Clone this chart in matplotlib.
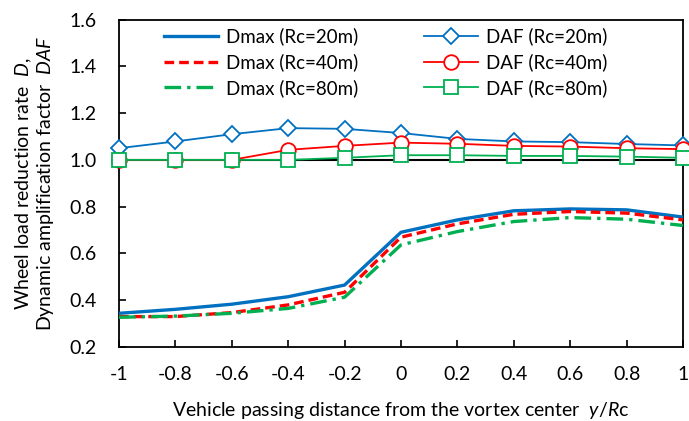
import matplotlib
matplotlib.use("Agg")
import matplotlib.pyplot as plt

plt.rcParams['font.family'] = ['Lato', 'DejaVu Sans']
plt.rcParams['mathtext.fontset'] = 'custom'
plt.rcParams['mathtext.it'] = 'Lato:italic'
plt.rcParams['mathtext.rm'] = 'Lato'

x = [-1, -0.8, -0.6, -0.4, -0.2, 0, 0.2, 0.4, 0.6, 0.8, 1]
dmax_20 = [0.343, 0.360, 0.382, 0.414, 0.464, 0.690, 0.743, 0.782, 0.790, 0.786, 0.755]
dmax_40 = [0.329, 0.329, 0.346, 0.379, 0.433, 0.669, 0.726, 0.767, 0.779, 0.772, 0.743]
dmax_80 = [0.326, 0.331, 0.343, 0.364, 0.412, 0.636, 0.693, 0.736, 0.753, 0.746, 0.719]
daf_20 = [1.050, 1.079, 1.110, 1.136, 1.133, 1.115, 1.090, 1.079, 1.076, 1.068, 1.062]
daf_40 = [1.000, 1.000, 1.000, 1.043, 1.060, 1.074, 1.069, 1.060, 1.057, 1.050, 1.046]
daf_80 = [1.000, 1.000, 1.000, 1.000, 1.009, 1.020, 1.020, 1.017, 1.017, 1.014, 1.009]
x_ticks = [-1, -0.8, -0.6, -0.4, -0.2, 0, 0.2, 0.4, 0.6, 0.8, 1]
x_tick_labels = ['-1', '-0.8', '-0.6', '-0.4', '-0.2', '0', '0.2', '0.4', '0.6', '0.8', '1']
y_ticks = [0.2, 0.4, 0.6, 0.8, 1.0, 1.2, 1.4, 1.6]
y_tick_labels = ['0.2', '0.4', '0.6', '0.8', '1.0', '1.2', '1.4', '1.6']

blue = '#0070C0'
red = '#FF0000'
green = '#00B050'

fig = plt.figure(figsize=(6.89, 4.21), dpi=100)
ax = fig.add_axes([0.1727, 0.1765, 0.8186, 0.7765])

ax.axhline(1.0, color='black', lw=1.5, zorder=1)

h1, = ax.plot(x, dmax_20, color=blue, lw=2.4, label='Dmax (Rc=20m)', zorder=3)
h2, = ax.plot(x, dmax_40, color=red, lw=2.4, dashes=(2.9, 1.5), label='Dmax (Rc=40m)', zorder=3)
h3, = ax.plot(x, dmax_80, color=green, lw=2.4, dashes=(5, 1.8, 1.0, 1.8), label='Dmax (Rc=80m)', zorder=3)
h4, = ax.plot(x, daf_20, color=blue, lw=1.3, marker='D', ms=8, mfc='white', mec=blue, mew=1.3,
              label='DAF (Rc=20m)', zorder=4)
h5, = ax.plot(x, daf_40, color=red, lw=1.3, marker='o', ms=10.5, mfc='white', mec=red, mew=1.3,
              label='DAF (Rc=40m)', zorder=5)
h6, = ax.plot(x, daf_80, color=green, lw=1.3, marker='s', ms=10.5, mfc='white', mec=green, mew=1.3,
              label='DAF (Rc=80m)', zorder=6)

ax.set_xlim(-1, 1)
ax.set_ylim(0.2, 1.6)
ax.set_xticks(x_ticks)
ax.set_xticklabels(x_tick_labels)
ax.set_yticks(y_ticks)
ax.set_yticklabels(y_tick_labels)
ax.tick_params(direction='in', length=5, width=1.2, labelsize=14, colors='black')
ax.tick_params(axis='y', pad=16)
ax.tick_params(axis='x', pad=14)
for s in ax.spines.values():
    s.set_linewidth(1.3)
for ln in (h4, h5, h6):
    ln.set_clip_on(False)

ax.set_xlabel('Vehicle passing distance from the vortex center  $y$/$R$c', fontsize=14, labelpad=12)
ax.set_ylabel('Wheel load reduction rate  $D$,\nDynamic amplification factor  $DAF$', fontsize=14,
              labelpad=10, linespacing=1.05)

leg = ax.legend(handles=[h1, h2, h3, h4, h5, h6], ncol=2, loc='upper left',
                bbox_to_anchor=(0.05, 1.028), frameon=False, fontsize=13.5,
                handlelength=2.9, columnspacing=3.5, labelspacing=0.42, handletextpad=0.4)

fig.savefig('out.png', dpi=100)
